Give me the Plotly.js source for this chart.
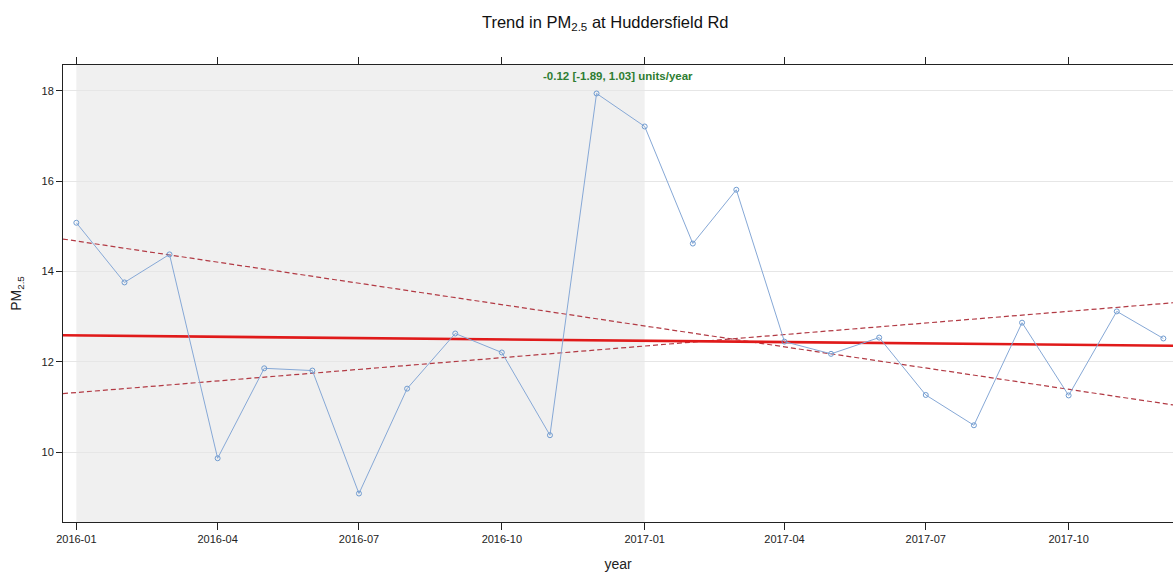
<!DOCTYPE html>
<html>
<head>
<meta charset="utf-8">
<script src="https://cdn.plot.ly/plotly-3.0.1.min.js"></script>
<style>html,body{margin:0;padding:0;background:#fff;}#chart{width:1173px;height:572px;}</style>
</head>
<body>
<div id="chart"></div>
<script>
// Monthly mean PM2.5 at Huddersfield Rd
var months = ['2016-01-01','2016-02-01','2016-03-01','2016-04-01','2016-05-01','2016-06-01',
              '2016-07-01','2016-08-01','2016-09-01','2016-10-01','2016-11-01','2016-12-01',
              '2017-01-01','2017-02-01','2017-03-01','2017-04-01','2017-05-01','2017-06-01',
              '2017-07-01','2017-08-01','2017-09-01','2017-10-01','2017-11-01','2017-12-01'];
var pm25 = [15.08, 13.76, 14.38, 9.87, 11.86, 11.81,
            9.09, 11.41, 12.63, 12.21, 10.38, 17.94,
            17.21, 14.62, 15.81, 12.45, 12.18, 12.54,
            11.27, 10.60, 12.87, 11.26, 13.12, 12.52];

// Theil-Sen trend and its confidence bounds (values at the panel edges)
var trendDates = ['2015-12-23 10:00', '2017-12-07 05:00'];
var trendMid   = [12.59, 12.36];
var trendLow   = [11.30, 13.31];
var trendHigh  = [14.72, 11.05];

var shadeRange = ['2016-01-01', '2017-01-01'];
var yTicks = [10, 12, 14, 16, 18];
var xTicks = ['2016-01-01','2016-04-01','2016-07-01','2016-10-01','2017-01-01','2017-04-01','2017-07-01','2017-10-01'];
var xTickText = ['2016-01','2016-04','2016-07','2016-10','2017-01','2017-04','2017-07','2017-10'];
var trendLabel = '-0.12 [-1.89, 1.03] units/year';

var font = 'Liberation Sans, Arial, sans-serif';

var traces = [
  {x: trendDates, y: trendHigh, mode: 'lines', line: {color: '#b23a44', width: 1.2, dash: '5px,3px'}, hoverinfo: 'skip'},
  {x: trendDates, y: trendLow, mode: 'lines', line: {color: '#b23a44', width: 1.2, dash: '5px,3px'}, hoverinfo: 'skip'},
  {x: trendDates, y: trendMid, mode: 'lines', line: {color: '#e01a1a', width: 2.6}, hoverinfo: 'skip'},
  {x: months, y: pm25, mode: 'lines+markers',
   line: {color: '#86a8d6', width: 1},
   marker: {symbol: 'circle-open', size: 5, color: '#6f9bd0', line: {width: 1}}}
];

var layout = {
  width: 1173, height: 572,
  margin: {l: 63, r: 0, t: 65, b: 50},
  paper_bgcolor: '#ffffff', plot_bgcolor: '#ffffff',
  showlegend: false,
  font: {family: font, size: 11, color: '#222'},
  title: {text: 'Trend in PM<sub>2.5</sub> at Huddersfield Rd', font: {family: font, size: 16.5, color: '#111'},
          x: 0.516, xref: 'container', xanchor: 'center', y: 0.962, yref: 'container', yanchor: 'middle'},
  xaxis: {
    type: 'date', range: trendDates,
    tickvals: xTicks, ticktext: xTickText,
    ticks: 'outside', ticklen: 7, tickcolor: '#222', tickwidth: 1,
    showline: true, linecolor: '#222', linewidth: 1, mirror: 'ticks',
    showgrid: false, zeroline: false,
    tickfont: {family: font, size: 11, color: '#222'},
    title: {text: 'year', font: {family: font, size: 14, color: '#222'}, standoff: 15}
  },
  yaxis: {
    range: [8.46, 18.57],
    tickvals: yTicks,
    ticks: 'outside', ticklen: 6, tickcolor: '#222', tickwidth: 1,
    showline: true, linecolor: '#222', linewidth: 1, mirror: false,
    showgrid: true, gridcolor: '#e6e6e6', gridwidth: 1, zeroline: false,
    tickfont: {family: font, size: 11, color: '#222'},
    title: {text: 'PM<sub>2.5</sub>', font: {family: font, size: 14, color: '#222'}, standoff: 16}
  },
  shapes: [{
    type: 'rect', xref: 'x', yref: 'paper', x0: shadeRange[0], x1: shadeRange[1], y0: 0, y1: 1,
    fillcolor: '#f0f0f0', line: {width: 0}, layer: 'below'
  }],
  annotations: [{
    text: '<b>' + trendLabel + '</b>', xref: 'paper', yref: 'paper',
    x: (618 - 63) / 1110, y: 1, yshift: -11, xanchor: 'center', yanchor: 'middle',
    showarrow: false, font: {family: font, size: 11.5, color: '#2e7d32'}
  }]
};

Plotly.newPlot('chart', traces, layout, {displayModeBar: false, staticPlot: true});
</script>
</body>
</html>
